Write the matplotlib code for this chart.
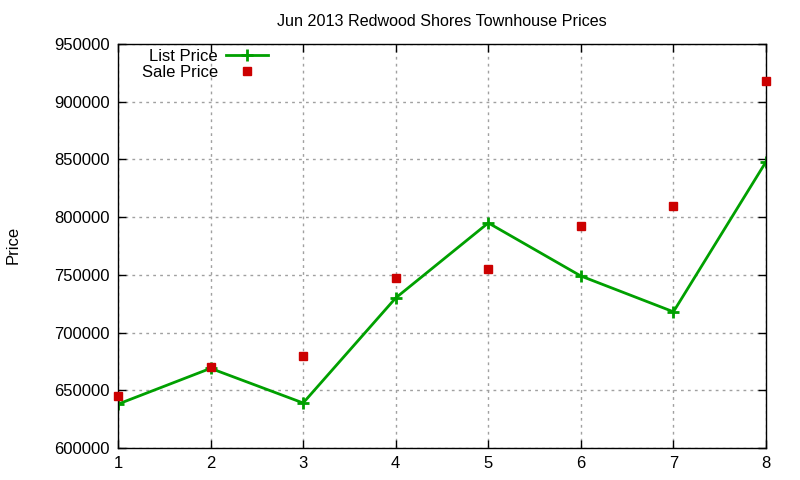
import matplotlib
matplotlib.use("Agg")
import matplotlib.pyplot as plt
from matplotlib.ticker import FormatStrFormatter

plt.rcParams['font.family'] = ['Liberation Sans', 'DejaVu Sans']

# Sale number within the month
homes = [1, 2, 3, 4, 5, 6, 7, 8]
list_price = [638000, 669000, 639000, 730000, 795000, 749000, 718000, 848000]
sale_price = [645000, 670000, 680000, 747000, 755000, 792500, 810000, 918000]

fig = plt.figure(figsize=(8, 4.8), dpi=100)
ax = fig.add_axes([0.1475, 0.0667, 0.81, 0.8416])

ax.plot(homes, list_price, color='#00a000', linewidth=2, marker='+',
        markersize=9, markeredgewidth=2, label='List Price', zorder=2)
ax.plot(homes, sale_price, linestyle='none', color='#cc0000', marker='s',
        markersize=6, label='Sale Price', clip_on=False, zorder=3)

ax.set_xlim(1, 8)
ax.set_ylim(600000, 950000)
ax.set_xticks(homes)
ax.set_yticks(range(600000, 950001, 50000))
ax.yaxis.set_major_formatter(FormatStrFormatter('%d'))

ax.grid(True, color='#a0a0a0', linestyle=(0, (2, 3)), linewidth=1)
ax.tick_params(direction='in', length=6, width=1, top=True, right=True,
               labelsize=12, pad=6, color='black')
for s in ax.spines.values():
    s.set_linewidth(1)

ax.set_title('Jun 2013 Redwood Shores Townhouse Prices', fontsize=11.6, pad=13)
fig.text(0.016, 0.49, 'Price', rotation=90, fontsize=12,
         ha='center', va='center')

ax.legend(loc='upper left', bbox_to_anchor=(0.016, 1.02), frameon=False,
          markerfirst=False, fontsize=12, handlelength=2.5, handletextpad=0.5,
          labelspacing=0.05, borderpad=0.3)

fig.savefig('out.png')
